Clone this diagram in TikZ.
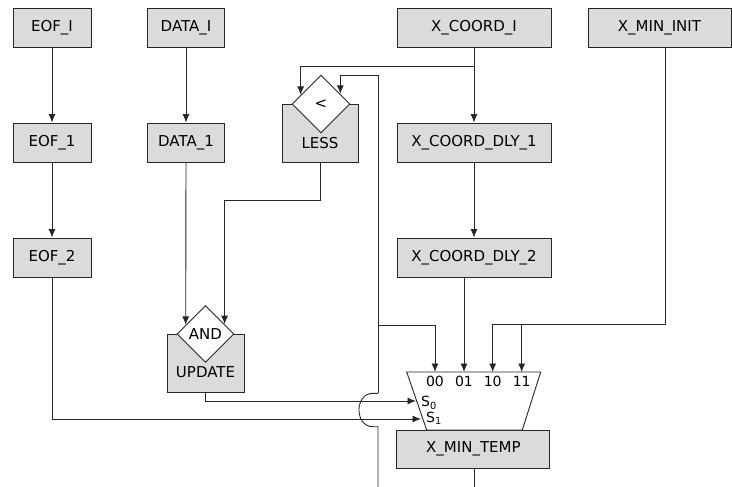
\documentclass[tikz,border=0pt]{standalone}
\usepackage{fontspec}
\setmainfont{DejaVu Sans}
\usetikzlibrary{shapes.geometric,arrows.meta,calc}
\begin{document}
\begin{tikzpicture}[x=1pt,y=-1pt,
  box/.style={draw=black!85, fill=black!14, line width=0.9pt, inner sep=0pt, font=\fontsize{15}{18}\selectfont},
  dia/.style={diamond, draw=black!85, fill=white, line width=0.9pt, inner sep=0pt, font=\fontsize{15}{18}\selectfont},
  txt/.style={inner sep=0pt, font=\fontsize{15}{18}\selectfont},
  mlbl/.style={inner sep=0pt, font=\fontsize{14}{16}\selectfont},
  wire/.style={draw=black!85, line width=0.9pt},
  arr/.style={wire, -{Latex[length=8.5pt,width=7pt]}}]
\useasboundingbox (0,0) rectangle (732,487);
% boxes
\node[box, minimum width=78, minimum height=39] (eofi) at (52,27.5) {EOF\_I};
\node[box, minimum width=77, minimum height=39] (datai) at (186,27.5) {DATA\_I};
\node[box, minimum width=154, minimum height=39] (xci) at (474,27.5) {X\_COORD\_I};
\node[box, minimum width=143, minimum height=39] (xmi) at (659.5,27.5) {X\_MIN\_INIT};
\node[box, minimum width=78, minimum height=39] (eof1) at (52,142.5) {EOF\_1};
\node[box, minimum width=77, minimum height=39] (data1) at (186,142.5) {DATA\_1};
\node[box, minimum width=154, minimum height=39] (xcd1) at (474,142.5) {X\_COORD\_DLY\_1};
\node[box, minimum width=78, minimum height=39] (eof2) at (52,257.5) {EOF\_2};
\node[box, minimum width=154, minimum height=39] (xcd2) at (474,257.5) {X\_COORD\_DLY\_2};
\node[box, minimum width=76, minimum height=58] (lessbox) at (320,133) {};
\node[txt] (lesst) at (320,143) {LESS};
\node[dia, minimum width=58, minimum height=58] (lessd) at (321,104) {<};
\node[box, minimum width=77, minimum height=58] (updbox) at (205.5,363) {};
\node[txt] (updt) at (205.5,372) {UPDATE};
\node[dia, minimum width=57, minimum height=57] (andd) at (205.5,334) {AND};
\node[box, minimum width=153, minimum height=38] (xmt) at (473.4,449.2) {X\_MIN\_TEMP};
% mux
\draw[wire, fill=white] (406.7,372) -- (540.7,372) -- (522.3,430) -- (426.7,430) -- cycle;
\coordinate (m00) at (435,372);
\coordinate (m01) at (464,372);
\coordinate (m10) at (492.7,372);
\coordinate (m11) at (521.7,372);
\coordinate (ms0) at (416,401);
\coordinate (ms1) at (421,419);
\node[mlbl] (l00) at (435,381.7) {00};
\node[mlbl] (l01) at (464,381.7) {01};
\node[mlbl] (l10) at (492.7,381.7) {10};
\node[mlbl] (l11) at (521.7,381.7) {11};
\node[mlbl, anchor=west] (s0) at (421,403) {S\textsubscript{0}};
\node[mlbl, anchor=west] (s1) at (426,418.5) {S\textsubscript{1}};
% wires
\draw[arr] (eofi.south) -- (eof1.north);
\draw[arr] (eof1.south) -- (eof2.north);
\draw[arr] (datai.south) -- (data1.north);
\draw[arr] (xci.south) -- (xcd1.north);
\draw[arr] (xcd1.south) -- (xcd2.north);
\coordinate (sp1) at (474,66.7);
\draw[arr] (sp1) -| ($(lessd.west)!0.31!(lessd.north)$);
\coordinate (fbot) at (378,487);
\coordinate (jb) at (378,426.7);
\coordinate (jt) at (378,393.3);
\coordinate (ftop) at (378,75.7);
\coordinate (fb) at (378,325);
\draw[wire] (fbot) -- (jb) -- (373,426.7) .. controls (354.3,426.7) and (354.3,393.3) .. (373,393.3) -- (jt);
\draw[arr] (jt) -- (ftop) -| ($(lessd.east)!0.345!(lessd.north)$);
\draw[arr] (fb) -| (m00);
\draw[arr] (lessbox.south) -- ++(0,38) -| ($(andd.east)!0.34!(andd.north)$);
\draw[arr] (data1.south) -- ($(andd.west)!0.316!(andd.north)$);
\draw[arr] (updbox.south) |- (ms0);
\draw[arr] (eof2.south) |- (ms1);
\draw[arr] (xcd2.south -| m01) -- (m01);
\coordinate (xmx) at (665,324.5);
\draw[arr] (xmi.south -| xmx) -- (xmx) -| (m10);
\draw[arr] (xmx -| m11) -- (m11);
\coordinate (out) at (474,487);
\draw[wire] (xmt.south -| out) -- (out);
\end{tikzpicture}
\end{document}
